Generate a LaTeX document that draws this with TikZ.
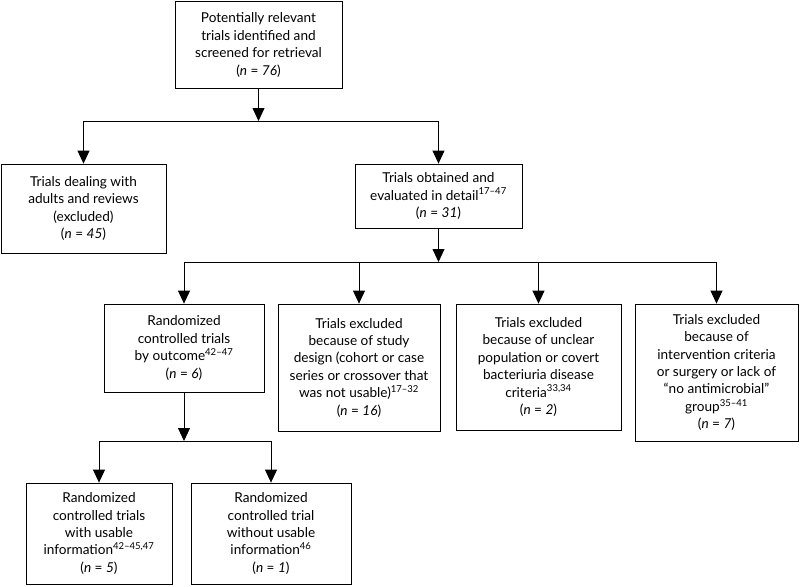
\documentclass[tikz,border=0pt]{standalone}
\usepackage{fontspec}
\setmainfont{Lato}
\usetikzlibrary{arrows.meta}
\begin{document}
\begin{tikzpicture}[x=1pt,y=-1pt,
  box/.style={draw,line width=0.8pt,align=center,inner sep=0pt,
    font=\fontsize{13.6}{17.4}\selectfont},
  arr/.style={line width=0.8pt,-{Triangle[width=12pt,length=13pt]}},
  ln/.style={line width=0.8pt}]
\useasboundingbox (0,0) rectangle (800,586);
\node[box,minimum width=167pt,minimum height=87pt] (top) at (258.5,45)
  {Potentially relevant\\trials identified and\\screened for retrieval\\(\textit{n} = \textit{76})};
\node[box,minimum width=165pt,minimum height=89pt] (adults) at (83.5,208.5)
  {Trials dealing with\\adults and reviews\\(excluded)\\(\textit{n} = \textit{45})};
\node[box,minimum width=167pt,minimum height=64pt] (obt) at (438.5,196)
  {Trials obtained and\\evaluated in detail\textsuperscript{17–47}\\(\textit{n} = \textit{31})};
\node[box,minimum width=160pt,minimum height=88pt] (rct) at (184,348)
  {Randomized\\controlled trials\\by outcome\textsuperscript{42–47}\\(\textit{n} = \textit{6})};
\node[box,minimum width=162pt,minimum height=127pt] (design) at (359,367.5)
  {Trials excluded\\because of study\\design (cohort or case\\series or crossover that\\was not usable)\textsuperscript{17–32}\\(\textit{n} = \textit{16})};
\node[box,minimum width=165pt,minimum height=126pt] (unclear) at (538.5,367)
  {Trials excluded\\because of unclear\\population or covert\\bacteriuria disease\\criteria\textsuperscript{33,34}\\(\textit{n} = \textit{2})};
\node[box,minimum width=163pt,minimum height=137pt] (interv) at (716.5,372.5)
  {Trials excluded\\because of\\intervention criteria\\or surgery or lack of\\“no antimicrobial”\\group\textsuperscript{35–41}\\(\textit{n} = \textit{7})};
\node[box,minimum width=146pt,minimum height=101pt] (usable) at (99,533.5)
  {Randomized\\controlled trials\\with usable\\information\textsuperscript{42–45,47}\\(\textit{n} = \textit{5})};
\node[box,minimum width=160pt,minimum height=101pt] (without) at (271,533.5)
  {Randomized\\controlled trial\\without usable\\information\textsuperscript{46}\\(\textit{n} = \textit{1})};
\coordinate (b1) at (258.5,121);
\coordinate (b2) at (438.5,262);
\coordinate (b3) at (184,441);
\draw[arr] (top.south) -- (b1);
\draw[ln] (adults.north |- b1) -- (obt.north |- b1);
\draw[arr] (adults.north |- b1) -- (adults.north);
\draw[arr] (obt.north |- b1) -- (obt.north);
\draw[arr] (obt.south) -- (b2);
\draw[ln] (rct.north |- b2) -- (interv.north |- b2);
\draw[arr] (rct.north |- b2) -- (rct.north);
\draw[arr] (design.north |- b2) -- (design.north);
\draw[arr] (unclear.north |- b2) -- (unclear.north);
\draw[arr] (interv.north |- b2) -- (interv.north);
\draw[arr] (rct.south) -- (b3);
\draw[ln] (usable.north |- b3) -- (without.north |- b3);
\draw[arr] (usable.north |- b3) -- (usable.north);
\draw[arr] (without.north |- b3) -- (without.north);
\end{tikzpicture}
\end{document}
